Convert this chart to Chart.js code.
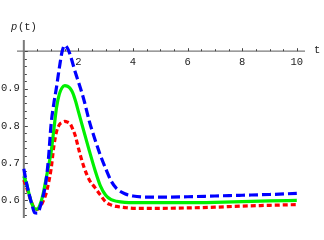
<!DOCTYPE html>
<html>
<head>
<meta charset="utf-8">
<script src="https://cdn.jsdelivr.net/npm/chart.js@4/dist/chart.umd.min.js"></script>
<style>
html,body{margin:0;padding:0;background:#fff;}
#wrap{width:324px;height:240px;position:relative;}
</style>
</head>
<body>
<div id="wrap"><canvas id="c" width="324" height="240"></canvas></div>
<script>
const tValues = [0,0.1,0.2,0.3,0.4,0.5,0.6,0.7,0.8,0.9,1.0,1.1,1.2,1.3,1.4,1.5,1.6,1.7,1.8,1.9,2.0,2.2,2.4,2.6,2.8,3.0,3.2,3.4,3.7,4.0,4.5,5,6,7,8,9,10];
const blueSeries = [0.685,0.646,0.615,0.588,0.567,0.566,0.583,0.61,0.645,0.71,0.805,0.86,0.905,0.955,0.998,1.016,1.008,0.99,0.965,0.94,0.918,0.87,0.812,0.765,0.722,0.685,0.652,0.632,0.618,0.612,0.609,0.609,0.61,0.612,0.614,0.616,0.619];
const greenSeries = [0.665,0.645,0.615,0.59,0.578,0.577,0.59,0.615,0.652,0.69,0.73,0.79,0.85,0.885,0.902,0.908,0.906,0.9,0.887,0.865,0.838,0.785,0.733,0.683,0.64,0.614,0.602,0.598,0.595,0.594,0.594,0.594,0.594,0.595,0.597,0.599,0.6];
const redSeries = [0.655,0.635,0.612,0.592,0.578,0.576,0.583,0.597,0.615,0.645,0.685,0.745,0.785,0.803,0.809,0.812,0.81,0.805,0.79,0.77,0.74,0.69,0.655,0.635,0.615,0.596,0.588,0.584,0.581,0.579,0.579,0.579,0.58,0.582,0.585,0.587,0.589];
const xTickLabels = [2,4,6,8,10];
const yTickLabels = [0.6,0.7,0.8,0.9];
const xAxisTitle = "t";
const yAxisTitleVar = "p";
const yAxisTitleArg = "(t)";

function pts(arr){ return tValues.map((t,i)=>({x:t,y:arr[i]})); }

const axesPlugin = {
  id:'mathAxes',
  beforeDatasetsDraw(chart){
    const ctx = chart.ctx, xs = chart.scales.x, ys = chart.scales.y;
    const x0 = xs.getPixelForValue(0), y1 = ys.getPixelForValue(1.0);
    ctx.save();
    ctx.strokeStyle = '#7a7a7a';
    ctx.lineWidth = 2;
    ctx.beginPath(); ctx.moveTo(x0, ys.top); ctx.lineTo(x0, ys.bottom); ctx.stroke();
    ctx.lineWidth = 1.2;
    ctx.beginPath(); ctx.moveTo(xs.left, y1); ctx.lineTo(xs.right, y1); ctx.stroke();
    ctx.strokeStyle = '#444';
    ctx.lineWidth = 1;
    for (let k=1;k<=20;k++){
      const t = k*0.5, px = Math.round(xs.getPixelForValue(t))+0.5;
      const len = (k%4===0)?3:2;
      ctx.beginPath(); ctx.moveTo(px, y1); ctx.lineTo(px, y1-len); ctx.stroke();
    }
    for (let k=28;k<=50;k++){
      const v = k*0.02, py = Math.round(ys.getPixelForValue(v))+0.5;
      const len = (k%5===0)?3:2;
      ctx.beginPath(); ctx.moveTo(x0+1, py); ctx.lineTo(x0+1+len, py); ctx.stroke();
    }
    ctx.fillStyle = '#222';
    const mono = '"Liberation Mono", "DejaVu Sans Mono", monospace';
    ctx.font = '10.5px ' + mono;
    ctx.textAlign = 'center'; ctx.textBaseline = 'top';
    xTickLabels.forEach(v=>{ ctx.fillText(String(v), xs.getPixelForValue(v), y1+6); });
    ctx.textAlign = 'right'; ctx.textBaseline = 'middle';
    yTickLabels.forEach(v=>{ ctx.fillText(v.toFixed(1), x0-4, ys.getPixelForValue(v)); });
    ctx.textAlign = 'left';
    ctx.fillText(xAxisTitle, 314, y1-1);
    ctx.font = 'italic 10.5px ' + mono;
    ctx.fillText(yAxisTitleVar, 11, 27);
    ctx.font = '10.5px ' + mono;
    ctx.fillText(yAxisTitleArg, 18, 27);
    ctx.restore();
  }
};

new Chart(document.getElementById('c'), {
  type:'line',
  data:{
    datasets:[
      {label:'blue', data:pts(blueSeries), borderColor:'#0000ff', borderWidth:3.2, borderDash:[9,4], pointRadius:0, cubicInterpolationMode:'monotone', fill:false, order:0},
      {label:'green', data:pts(greenSeries), borderColor:'#00f000', borderWidth:3.2, pointRadius:0, cubicInterpolationMode:'monotone', fill:false, order:1},
      {label:'red', data:pts(redSeries), borderColor:'#ff0000', borderWidth:3.2, borderDash:[5,3], pointRadius:0, cubicInterpolationMode:'monotone', fill:false, order:2}
    ]
  },
  options:{
    responsive:false, animation:false,
    layout:{padding:{left:17,right:19,top:40,bottom:22}},
    plugins:{legend:{display:false}, tooltip:{enabled:false}},
    scales:{
      x:{type:'linear', min:-0.25, max:10.3, display:false},
      y:{type:'linear', min:0.553, max:1.03, display:false}
    },
    elements:{line:{borderCapStyle:'butt'}}
  },
  plugins:[axesPlugin]
});
</script>
</body>
</html>
